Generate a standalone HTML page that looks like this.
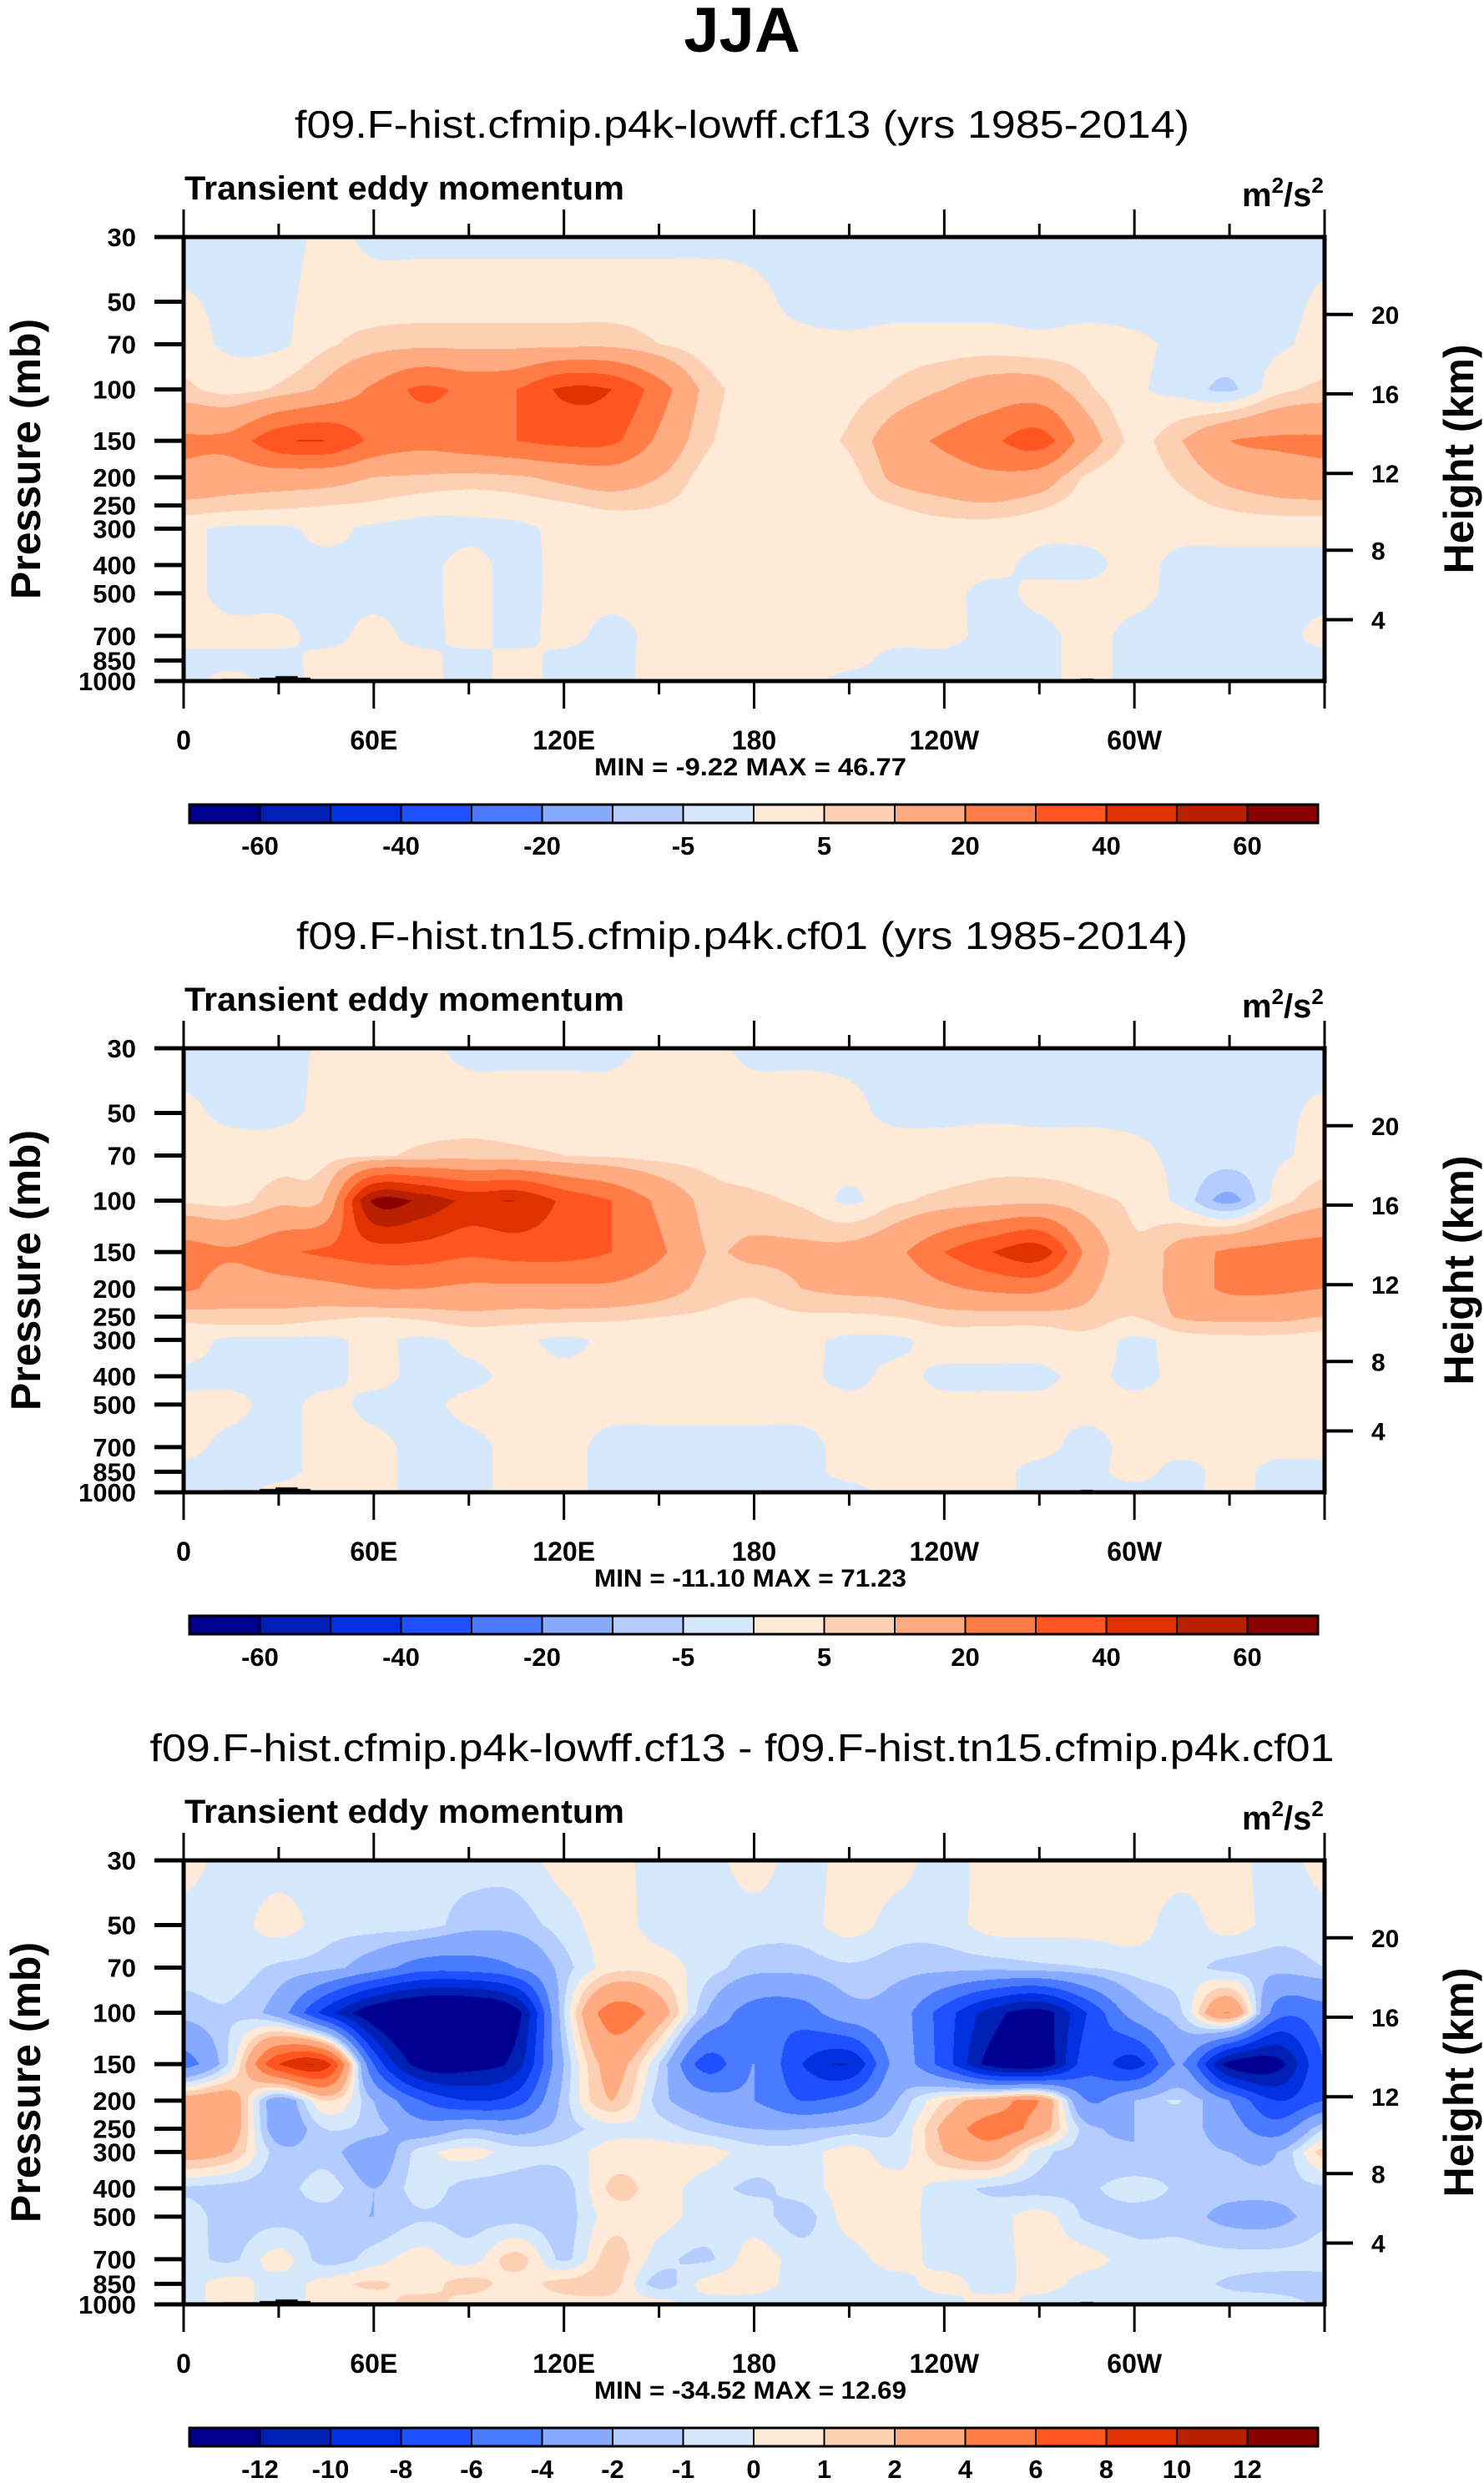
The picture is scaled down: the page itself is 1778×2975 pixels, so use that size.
<!DOCTYPE html>
<html><head><meta charset="utf-8">
<style>
html,body{margin:0;padding:0;background:#fff;}
#wrap{position:relative;width:1778px;height:2975px;overflow:hidden;}
canvas{position:absolute;}
svg{position:absolute;left:0;top:0;}
text{font-family:"Liberation Sans",Arial,sans-serif;fill:#000;}
</style></head>
<body>
<div id="wrap">
<canvas id="c0" width="1367" height="532" style="left:220px;top:284px"></canvas>
<canvas id="c1" width="1367" height="532" style="left:220px;top:1256px"></canvas>
<canvas id="c2" width="1367" height="532" style="left:220px;top:2229px"></canvas>
<svg id="ov" width="1778" height="2975" xmlns="http://www.w3.org/2000/svg">
<text x="889" y="62" text-anchor="middle" font-size="76" font-weight="bold">JJA</text>
</svg>
</div>
<script>
// ---- data ----
const lons = [0,15,30,45,60,75,90,105,120,135,150,165,180,195,210,225,240,255,270,285,300,315,330,345,360];
const levels = [30,50,70,100,150,200,250,300,400,500,700,850,1000];
const panel1Values = [
 [-2,-2,-2,1,-1,-1,-1,-1,-1,-1,-1,-1,-1,-2,-2,-2,-2,-2,-2,-2,-2,-2,-2,-2,-2],
 [0.5,-1,-1,2,2,2,2,2,2,2,2,2,1,-1,-2,-2,-2,-2,-2,-2,-2,-2,-2,-2,1],
 [2,-1,-1,4,7,8,8,8,8,8,5,2,1,1,1,2,2,2,1,2,1,-1,-2,-1,2],
 [6,3,6,12,22,32,28,30,42,40,25,8,3,2,3,6,10,14,14,6,1,-2,-6,3,6],
 [22,24,38,40,28,24,27,30,33,32,18,6,3,3,6,15,22,28,35,15,4,10,20,22,22],
 [18,15,14,13,10,9,8,9,12,14,10,3,2,2,3,12,15,18,15,4,2,6,12,15,18],
 [8,7,6,5,4,2,1,2,4,6,5,2,1,1,2,5,8,9,6,2,1,3,6,8,8],
 [1,-1,-1,1,-1,-2,-1,-1,1,1,2,1,1,1,1,1,2,2,1,1,1,1,1,1,1],
 [1,-1,-1,-1,-1,-1,1,-1,1,1,1,1,1,1,1,1,1,1,-1,-1,1,-1,-1,-1,-1],
 [1,-1,-1,-1,-1,-1,1,-1,1,1,1,1,1,1,1,1,1,-1,1,1,1,-1,-1,-1,-1],
 [1,1,1,-1,1,-1,1,-1,1,-1,1,1,1,1,1,1,1,-1,-1,1,-1,-1,-1,-1,1],
 [-1,-1,-1,1,1,1,-1,1,-1,-1,1,1,1,1,1,-1,-1,-1,-1,1,-1,-1,-1,-1,-1],
 [-1,1,-1,1,1,1,-1,1,-1,-1,1,1,1,1,-1,-1,-1,-1,-1,1,-1,-1,-1,-1,-1]
];
const panel2Values = [
 [-2,-2,-2,1,2,1,-1,-1,-1,-1,1,1,-1,-1,-1,-1,-1,-1,-1,-1,-1,-1,-1,-1,-2],
 [1,-1,-1,1,2,2,2,2,2,2,2,2,2,2,1,-1,-1,-1,-1,-1,-1,-1,-1,-1,1],
 [2,2,2,3,4,6,7,6,5,4,3,3,2,2,2,2,2,3,2,2,1,-1,-2,-1,2],
 [4,3,8,12,62,58,48,50,38,30,18,8,6,4,-1,4,6,7,8,6,4,-2,-12,2,8],
 [25,22,28,32,35,35,32,34,34,30,22,10,12,12,13,18,30,40,46,18,6,14,22,24,25],
 [22,15,15,17,20,20,18,18,18,18,14,8,6,10,12,13,18,22,22,12,6,14,22,22,20],
 [6,8,8,6,5,6,8,7,7,6,5,4,3,4,4,5,7,7,7,8,5,11,12,12,10],
 [2,-1,-1,-1,1,-1,1,1,-1,1,1,1,1,1,-1,-1,2,2,2,3,-1,2,3,3,2],
 [-1,-1,-1,-1,1,-1,-1,1,1,1,1,1,1,1,-1,1,-1,-1,-1,1,-1,1,1,1,1],
 [1,1,-1,1,-1,-1,1,1,1,1,1,1,1,1,1,1,1,1,1,1,1,1,1,1,1],
 [1,-1,-1,1,1,-1,-1,1,1,-1,-1,-1,-1,-1,1,1,1,1,1,-1,1,1,1,1,1],
 [-1,-1,-1,1,1,-1,-1,1,1,-1,-1,-1,-1,-1,1,1,1,1,-1,-1,1,-1,1,-1,-1],
 [-1,-1,1,1,1,-1,-1,1,1,-1,-1,-1,-1,-1,-1,1,1,1,-1,-1,-1,-1,1,-1,-1]
];
const panel3Values = [
 [0.5,-0.5,-0.5,-0.5,-0.5,-0.5,-0.5,-0.5,0.5,0.5,-0.5,-0.5,0.5,-0.5,0.5,0.5,-0.5,0.5,0.5,0.5,0.5,0.5,0.5,-0.5,0.5],
 [-0.5,-0.5,0.5,-0.5,-0.5,-0.5,-1.5,-1.5,-0.5,0.5,-0.5,-0.5,-0.5,-0.5,0.5,-0.5,-0.5,0.5,0.5,0.5,0.5,-0.5,0.5,-0.5,-0.5],
 [-0.5,-0.5,-1.2,-1.5,-3,-5,-5,-4,-1.5,0.5,0.5,-0.5,-1.5,-1.5,-1.2,-1.5,-1.5,-1.5,-1.2,-1,-0.5,-0.5,-1.5,-1.5,-1],
 [-1.5,-1.2,-3,-9,-14,-16,-16,-13,-1,5,3,-2,-5,-5,-2.5,-3,-7,-11,-13,-8,-3,-1,4,-5,-5],
 [-5,-0.5,8,9,-6,-13,-13,-11,-2,2.5,-1,-7,-4,-8,-10,-3.5,-7,-13,-14,-7,-9,-4,-13,-13,-6],
 [3,3,-3,1,-2,-6,-8,-7,-1.5,2,-1.5,-3,-4,-6,-5,-2,1,3,4,-4,-2,-1,-4,-8,-6],
 [3,3,-3,-1,-1.5,-3,-2,-2.5,-1.5,-0.5,-0.5,-1.5,-2,-2,-1.5,-1,2.5,5,3,-1.5,-2,-1.5,-3,-5,-1],
 [3,2,-1.5,-1.5,-3,-0.5,0.5,-0.5,-0.5,0.5,0.5,0.5,-0.5,-0.5,0.5,-0.5,2,3,-0.5,-1.5,-2,-1.5,-2,-2,1.5],
 [-1.2,-1.5,-1.5,-0.5,-2,-0.5,-1.5,-1.5,-1.5,1.2,0.5,-0.5,-1.2,-0.5,0.5,0.5,-0.5,-1.2,-1.5,-1.2,-0.5,-1.2,-1.5,-1.5,-1.2],
 [-0.5,-1.5,-1.5,-1.5,-2,-1.2,-1.5,-1.5,-1.5,0.5,0.5,-0.5,-0.5,-1.5,0.5,0.5,-0.5,-0.5,0.5,-1.2,-1.5,-1.5,-2.5,-2.5,-1.2],
 [-0.5,-1.2,0.5,-1.5,-0.5,0.5,-0.5,1.5,-1.2,1.5,-0.5,-1.2,0.5,-0.5,-0.5,0.5,-0.5,-0.5,0.5,0.5,-0.5,-0.5,-0.5,-0.5,-0.5],
 [-0.5,0.5,-0.5,0.5,1.2,0.5,1.5,0.5,1.5,1.5,-1.5,0.5,0.5,-0.5,-0.5,-0.5,0.5,-0.5,0.5,-0.5,-0.5,-0.5,-1.2,-1.5,-1.5],
 [-0.5,0.5,-0.5,0.5,0.5,1.5,0.5,0.5,0.5,0.5,0.5,-0.5,-0.5,-0.5,-0.5,-0.5,-0.5,0.5,-0.5,-0.5,-0.5,-0.5,-0.5,-0.5,-1.2]
];
const contourLevelsAbs = [-60,-50,-40,-30,-20,-10,-5,0,5,10,20,30,40,50,60];
const contourLevelsDiff = [-12,-10,-8,-6,-4,-2,-1,0,1,2,4,6,8,10,12];
const barLabelsAbs = ["","-60","","-40","","-20","","-5","","5","","20","","40","","60",""];
const barLabelsDiff = ["","-12","-10","-8","-6","-4","-2","-1","0","1","2","4","6","8","10","12",""];
const palette = ["#000090","#0020b4","#0030e0","#1e50ff","#4a7aff","#86aaff","#b4ccff","#d5e8fc","#ffe9d7","#fdd0b4","#ffab82","#ff7c46","#ff5520","#e03200","#b82000","#8a0000"];
const pressureTicks = [30,50,70,100,150,200,250,300,400,500,700,850,1000];
const lonTickLabels = ["0","60E","120E","180","120W","60W"];
const heightTicksKm = [20,16,12,8,4];
const heightTicksP = [55.3,103.5,194,356,616];
const topoBlocks = [[12,40,985],[24,40,974],[29,36,962],[99,102,991],[283,287,982],[287,310,994]];
const subtitles = ["f09.F-hist.cfmip.p4k-lowff.cf13 (yrs 1985-2014)","f09.F-hist.tn15.cfmip.p4k.cf01 (yrs 1985-2014)","f09.F-hist.cfmip.p4k-lowff.cf13 - f09.F-hist.tn15.cfmip.p4k.cf01"];
const subtitleWidths = [1072,1068,1419];
const minmaxText = ["MIN =  -9.22  MAX =  46.77","MIN = -11.10  MAX =  71.23","MIN = -34.52  MAX =  12.69"];

// ---- geometry ----
const PX=220, PW=1367, PH=532;
const panelTops=[284,1256,2229];
function xScale(lon){return PX+lon/360*PW;}
function yRel(p){return Math.log(p/30)/Math.log(1000/30)*PH;}
const NS="http://www.w3.org/2000/svg";
const svg=document.getElementById('ov');
function mk(tag,attrs,txt){const e=document.createElementNS(NS,tag);for(const k in attrs)e.setAttribute(k,attrs[k]);if(txt!==undefined)e.textContent=txt;svg.appendChild(e);return e;}

function cr(p0,p1,p2,p3,t){return 0.5*((2*p1)+(-p0+p2)*t+(2*p0-5*p1+4*p2-p3)*t*t+(-p0+3*p1-3*p2+p3)*t*t*t);}
function sample(grid,lon,lnp){
  const lnl=levels.map(l=>Math.log(l));
  let j=0; while(j<levels.length-2 && lnp>lnl[j+1]) j++;
  let ty=(lnp-lnl[j])/(lnl[j+1]-lnl[j]); ty=Math.max(0,Math.min(1,ty));
  let fi=lon/15; let i=Math.min(lons.length-2,Math.floor(fi)); let tx=fi-i;
  const row=(r)=>{const g=grid[r];const a=g[Math.max(0,i-1)],b=g[i],c=g[i+1],d=g[Math.min(g.length-1,i+2)];return cr(a,b,c,d,tx);};
  const r0=row(j), r1=row(j+1);
  return r0+(r1-r0)*ty;
}
function hexToRgb(h){return [parseInt(h.substr(1,2),16),parseInt(h.substr(3,2),16),parseInt(h.substr(5,2),16)];}
const rgbPal=palette.map(hexToRgb);
function drawField(cid,grid,clev){
  const cv=document.getElementById(cid), ctx=cv.getContext('2d');
  const img=ctx.createImageData(PW,PH);
  const L=Math.log(1000/30);
  for(let y=0;y<PH;y++){
    const lnp=Math.log(30)+(y+0.5)/PH*L;
    for(let x=0;x<PW;x++){
      const lon=(x+0.5)/PW*360;
      const v=sample(grid,lon,lnp);
      let k=0; while(k<clev.length && v>=clev[k]) k++;
      const c=rgbPal[k]; const o=(y*PW+x)*4;
      img.data[o]=c[0];img.data[o+1]=c[1];img.data[o+2]=c[2];img.data[o+3]=255;
    }
  }
  ctx.putImageData(img,0,0);
  ctx.fillStyle='#000';
  topoBlocks.forEach(b=>{const x0=b[0]/360*PW,x1=b[1]/360*PW,yy=yRel(b[2]);ctx.fillRect(x0,yy,x1-x0,PH-yy);});
}
drawField('c0',panel1Values,contourLevelsAbs);
drawField('c1',panel2Values,contourLevelsAbs);
drawField('c2',panel3Values,contourLevelsDiff);

// ---- axes & text ----
[0,1,2].forEach(pi=>{
  const T=panelTops[pi], B=T+PH, R=PX+PW;
  const st=mk('text',{x:889,y:T-119,'text-anchor':'middle','font-size':46,textLength:subtitleWidths[pi],lengthAdjust:'spacingAndGlyphs'},subtitles[pi]);
  
  
  const lt=mk('text',{x:221,y:T-45,'font-size':40,'font-weight':'bold',textLength:527,lengthAdjust:'spacingAndGlyphs'},'Transient eddy momentum');
  
  
  const ut=mk('text',{x:1488,y:T-37,'font-size':40,'font-weight':'bold'});
  ut.innerHTML='m<tspan dy="-16" font-size="26">2</tspan><tspan dy="16">/s</tspan><tspan dy="-16" font-size="26">2</tspan>';
  
  
  const fr=mk('rect',{x:PX,y:T,width:PW,height:PH,fill:'none',stroke:'#000','stroke-width':5});
  
  
  for(let lon=0;lon<=360;lon+=30){
    const x=xScale(lon), L=(lon%60===0)?33:16;
    const t1=mk('line',{x1:x,y1:T,x2:x,y2:T-L,stroke:'#000','stroke-width':3});
    
    
    const t2=mk('line',{x1:x,y1:B,x2:x,y2:B+L,stroke:'#000','stroke-width':3});
    
    
  }
  lonTickLabels.forEach((s,k)=>{
    const t=mk('text',{x:xScale(k*60),y:B+82,'text-anchor':'middle','font-size':32,'font-weight':'bold'},s);
    
    
  });
  pressureTicks.forEach(p=>{
    const y=T+yRel(p);
    const l=mk('line',{x1:PX-35,y1:y,x2:PX,y2:y,stroke:'#000','stroke-width':5});
    
    
    const t=mk('text',{x:163,y:y+11,'text-anchor':'end','font-size':31,'font-weight':'bold'},String(p));
    
    
  });
  heightTicksKm.forEach((km,k)=>{
    const y=T+yRel(heightTicksP[k]);
    const l=mk('line',{x1:R,y1:y,x2:R+34,y2:y,stroke:'#000','stroke-width':4});
    
    
    const t=mk('text',{x:1643,y:y+11,'font-size':30,'font-weight':'bold'},String(km));
    
    
  });
  const yt=mk('text',{x:0,y:0,'text-anchor':'middle','font-size':50,'font-weight':'bold',transform:'translate(48,'+(T+PH/2)+') rotate(-90)'},'Pressure (mb)');
  
  
  const ht=mk('text',{x:0,y:0,'text-anchor':'middle','font-size':50,'font-weight':'bold',transform:'translate(1765,'+(T+PH/2)+') rotate(-90)'},'Height (km)');
  
  
  const mm=mk('text',{x:899,y:T+PH+113,'text-anchor':'middle','font-size':30,'font-weight':'bold',textLength:374,lengthAdjust:'spacingAndGlyphs','xml:space':'preserve'},minmaxText[pi]);
  
  
  const cy=T+680, bw=84.5;
  palette.forEach((col,k)=>{
    const r=mk('rect',{x:227+k*bw,y:cy,width:bw,height:22,fill:col,stroke:'#000','stroke-width':2});
    
    
  });
  const ob=mk('rect',{x:227,y:cy,width:bw*16,height:22,fill:'none',stroke:'#000','stroke-width':3});
  
  
  const labs=(pi===2)?barLabelsDiff:barLabelsAbs;
  labs.forEach((s,k)=>{ if(!s) return;
    const t=mk('text',{x:227+k*bw,y:cy+60,'text-anchor':'middle','font-size':31,'font-weight':'bold'},s);
    
    
  });
});
</script>
</body></html>
